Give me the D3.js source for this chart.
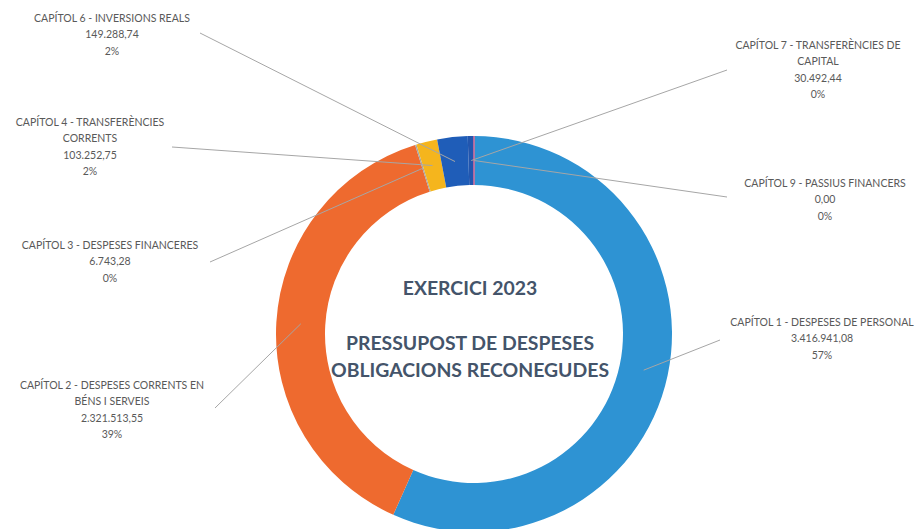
<!DOCTYPE html>
<html>
<head>
<meta charset="utf-8">
<script src="https://cdn.jsdelivr.net/npm/d3@7"></script>
<style>
  body { margin: 0; background: #fff; }
  svg { display: block; }
</style>
</head>
<body>
<div id="chart"></div>
<script>
// data
const capitols = ["CAPÍTOL 1 - DESPESES DE PERSONAL", "CAPÍTOL 2 - DESPESES CORRENTS EN BÉNS I SERVEIS",
  "CAPÍTOL 3 - DESPESES FINANCERES", "CAPÍTOL 4 - TRANSFERÈNCIES CORRENTS", "CAPÍTOL 6 - INVERSIONS REALS",
  "CAPÍTOL 7 - TRANSFERÈNCIES DE CAPITAL", "CAPÍTOL 9 - PASSIUS FINANCERS"];
const imports = [3416941.08, 2321513.55, 6743.28, 103252.75, 149288.74, 30492.44, 0.00];
const percents = ["57%", "39%", "0%", "2%", "2%", "0%", "0%"];
const colors = ["#2E93D3", "#EE6A2F", "#A5A5A5", "#F5B51D", "#1F5DB8", "#2356AE", "#E0709A"];
// label text lines as they wrap in the picture
const labelLines = [
  ["CAPÍTOL 1 - DESPESES DE PERSONAL"],
  ["CAPÍTOL 2 - DESPESES CORRENTS EN", "BÉNS I SERVEIS"],
  ["CAPÍTOL 3 - DESPESES FINANCERES"],
  ["CAPÍTOL 4 - TRANSFERÈNCIES", "CORRENTS"],
  ["CAPÍTOL 6 - INVERSIONS REALS"],
  ["CAPÍTOL 7 - TRANSFERÈNCIES DE", "CAPITAL"],
  ["CAPÍTOL 9 - PASSIUS FINANCERS"]
];
const centerLines = ["EXERCICI 2023", "", "PRESSUPOST DE DESPESES", "OBLIGACIONS RECONEGUDES"];

// layout: label block centre x, first line y, and leader start point
const labelPos = [
  { x: 822, y: 326, lx: 720, ly: 340 },
  { x: 112, y: 389, lx: 215, ly: 408 },
  { x: 110, y: 249, lx: 210, ly: 262 },
  { x: 90,  y: 126, lx: 172, ly: 147 },
  { x: 112, y: 22,  lx: 200, ly: 33 },
  { x: 818, y: 49,  lx: 727, ly: 70 },
  { x: 825, y: 187, lx: 727, ly: 197 }
];

const width = 922, height = 529;
const cx = 474, cy = 334, outerR = 198, innerR = 149;

const svg = d3.select("#chart").append("svg")
  .attr("width", width).attr("height", height);

const fmt = d3.formatLocale({ decimal: ",", thousands: ".", grouping: [3], currency: ["", ""] });
const fmtNum = fmt.format(",.2f");

const pie = d3.pie().sort(null).value(d => d)(imports);
const arc = d3.arc().innerRadius(innerR).outerRadius(outerR);
const midArc = d3.arc().innerRadius((innerR + outerR) / 2).outerRadius((innerR + outerR) / 2);

const g = svg.append("g").attr("transform", `translate(${cx}, ${cy})`);

g.selectAll("path.slice")
  .data(pie)
  .join("path")
  .attr("class", "slice")
  .attr("d", arc)
  .attr("fill", (d, i) => colors[i])
  .attr("stroke", (d, i) => d.value === 0 ? colors[i] : "none")
  .attr("stroke-width", 1);

// leader lines
svg.append("g")
  .selectAll("line")
  .data(pie)
  .join("line")
  .attr("x1", (d, i) => labelPos[i].lx)
  .attr("y1", (d, i) => labelPos[i].ly)
  .attr("x2", d => cx + midArc.centroid(d)[0])
  .attr("y2", d => cy + midArc.centroid(d)[1])
  .attr("stroke", "#A6A6A6")
  .attr("stroke-width", 1);

// labels
const lineH = 16.3;
pie.forEach((d, i) => {
  const lines = labelLines[i].concat([fmtNum(d.value), percents[i]]);
  const t = svg.append("text")
    .attr("x", labelPos[i].x)
    .attr("y", labelPos[i].y)
    .attr("text-anchor", "middle")
    .attr("font-family", "Lato, sans-serif")
    .attr("font-size", 10.5)
    .attr("fill", "#595959");
  lines.forEach((s, j) => {
    t.append("tspan").attr("x", labelPos[i].x).attr("dy", j === 0 ? 0 : lineH).text(s);
  });
});

// centre title
const centerY = [295, 0, 350, 377];
centerLines.forEach((s, j) => {
  if (!s) return;
  svg.append("text")
    .attr("x", cx - 4)
    .attr("y", centerY[j])
    .attr("text-anchor", "middle")
    .attr("font-family", "Lato, sans-serif")
    .attr("font-weight", "bold")
    .attr("font-size", 19.4)
    .attr("fill", "#44546A")
    .text(s);
});
</script>
</body>
</html>
